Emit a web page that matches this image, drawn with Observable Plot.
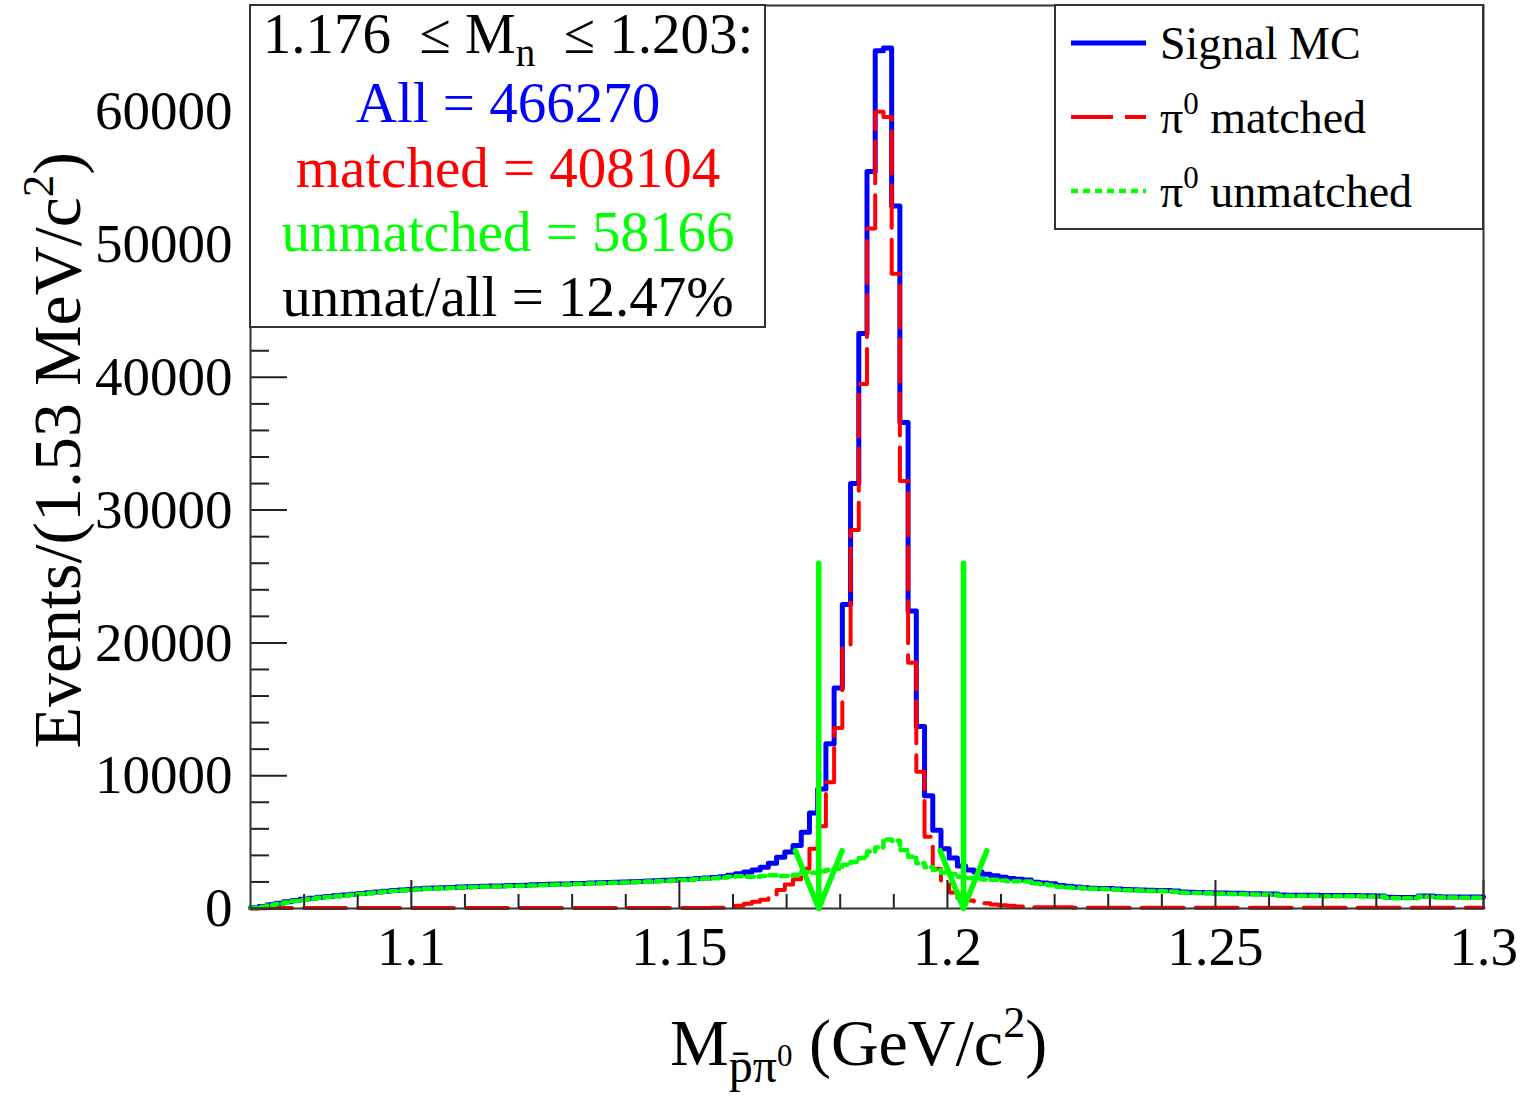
<!DOCTYPE html>
<html><head><meta charset="utf-8">
<script src="https://cdn.jsdelivr.net/npm/d3@7"></script>
<script src="https://cdn.jsdelivr.net/npm/@observablehq/plot@0.6"></script>
<style>
html,body{margin:0;padding:0;background:#fff;}
#chart svg{display:block;}
</style></head><body><div id="chart"></div>
<script>
// Histogram binning (150 bins of 1.53 MeV/c^2)
const binLow = 1.07;
const binHigh = 1.30;
const nBins = 150;

// Signal MC (all)
const allMC = [
  50,150,280,400,500,600,700,780,850,900,
  960,1010,1080,1130,1180,1250,1300,1350,1400,1430,
  1480,1520,1540,1570,1590,1620,1640,1650,1680,1690,
  1700,1730,1740,1750,1780,1800,1830,1840,1850,1880,
  1890,1920,1940,1960,1980,1990,2020,2040,2070,2090,
  2120,2140,2180,2200,2260,2290,2340,2400,2500,2620,
  2750,2900,3100,3400,3850,4250,4750,5750,7200,9000,
  12400,16600,22900,32000,43300,55500,64600,64800,52900,36600,
  22400,13700,8500,5900,4500,3800,3200,2900,2750,2580,
  2460,2360,2260,2200,2140,1980,1920,1860,1740,1680,
  1620,1570,1530,1510,1500,1460,1430,1420,1400,1370,
  1360,1350,1310,1240,1220,1210,1190,1170,1160,1150,
  1150,1120,1110,1100,1090,1010,1000,1000,990,990,
  980,980,980,970,970,960,960,950,840,830,
  820,830,950,940,880,870,870,860,860,860
];

// pi0 matched
const matched = [
  0,10,40,40,40,40,40,40,40,40,
  40,40,40,40,40,40,40,40,40,40,
  40,40,40,40,40,40,40,40,40,40,
  40,40,40,40,40,40,40,40,40,40,
  40,40,40,40,40,40,40,40,40,40,
  40,40,40,40,40,40,60,60,100,200,
  350,500,650,900,1400,1800,2200,3000,4500,6200,
  9500,13600,19600,28500,39500,51200,60000,59600,47800,32200,
  18500,10300,5400,3000,1800,1200,800,600,500,400,
  300,250,200,150,100,100,100,100,100,100,
  50,50,50,50,50,50,50,50,50,50,
  50,50,50,50,50,50,50,50,50,50,
  50,50,50,50,50,50,50,50,50,50,
  50,50,50,50,50,50,50,50,50,50,
  50,50,50,50,50,50,50,50,50,50
];

// pi0 unmatched
const unmatched = [
  50,140,240,360,460,560,660,740,810,860,
  920,970,1040,1090,1140,1210,1260,1310,1360,1390,
  1440,1480,1500,1530,1550,1580,1600,1610,1640,1650,
  1660,1690,1700,1710,1740,1760,1790,1800,1810,1840,
  1850,1880,1900,1920,1940,1950,1980,2000,2030,2050,
  2080,2100,2140,2160,2220,2250,2280,2340,2400,2420,
  2400,2400,2450,2500,2450,2450,2550,2750,2700,2800,
  2900,3000,3300,3500,3800,4300,4600,5200,5100,4400,
  3900,3400,3100,2900,2700,2600,2400,2300,2250,2180,
  2160,2110,2060,2050,2040,1880,1820,1760,1640,1580,
  1570,1520,1480,1460,1450,1410,1380,1370,1350,1320,
  1310,1300,1260,1190,1170,1160,1140,1120,1110,1100,
  1100,1070,1060,1050,1040,960,950,950,940,940,
  930,930,930,920,920,910,910,900,790,780,
  770,780,900,890,830,820,820,810,810,810
];

// Axis ticks
const xTickLabels = [1.1, 1.15, 1.2, 1.25, 1.3];
const xMinorTicks = [1.08,1.09,1.11,1.12,1.13,1.14,1.16,1.17,1.18,1.19,1.21,1.22,1.23,1.24,1.26,1.27,1.28,1.29];
const yTickLabels = [0, 10000, 20000, 30000, 40000, 50000, 60000];
const yMinorTicks = [2000,4000,6000,8000,12000,14000,16000,18000,22000,24000,26000,28000,32000,34000,36000,38000,42000,44000,46000,48000,52000,54000,56000,58000,62000,64000,66000];
const yMax = 68000;

// Selection window arrows
const cuts = [1.176, 1.203];
const arrowTop = 26000;

// Text
const statsLines = [
  {text: "All = 466270", color: "#0000ff"},
  {text: "matched = 408104", color: "#ff0000"},
  {text: "unmatched = 58166", color: "#00ff00"},
  {text: "unmat/all = 12.47%", color: "#000000"}
];
const legendItems = [
  {label: "Signal MC", pi: false, color: "#0000ff", dash: null, width: 5},
  {label: " matched", pi: true, color: "#ff0000", dash: "42,12", width: 4},
  {label: " unmatched", pi: true, color: "#00ff00", dash: "7,5", width: 4.5}
];

const binW = (binHigh - binLow) / nBins;
function steps(values) {
  const pts = values.map((v, i) => ({x: binLow + i * binW, y: v}));
  pts.push({x: binHigh, y: values[values.length - 1]});
  return pts;
}

const serif = "Liberation Serif, Times New Roman, serif";
const plot = Plot.plot({
  width: 1522,
  height: 1097,
  marginLeft: 250,
  marginRight: 39,
  marginTop: 5,
  marginBottom: 189,
  x: {domain: [binLow, binHigh]},
  y: {domain: [0, yMax]},
  style: {fontFamily: serif, fontSize: "55px", background: "white", color: "black", overflow: "visible"},
  marks: [
    Plot.line(steps(allMC), {x: "x", y: "y", curve: "step-after", stroke: "#0000ff", strokeWidth: 5}),
    Plot.line(steps(matched), {x: "x", y: "y", curve: "step-after", stroke: "#ff0000", strokeWidth: 4, strokeDasharray: "42,12"}),
    Plot.line(steps(unmatched), {x: "x", y: "y", curve: "step-after", stroke: "#00ff00", strokeWidth: 4.5, strokeDasharray: "7,5"}),
    Plot.ruleX(xMinorTicks, {x: d => d, y1: 0, y2: 0, insetBottom: 14, stroke: "#222", strokeWidth: 2}),
    Plot.ruleX(xTickLabels, {x: d => d, y1: 0, y2: 0, insetBottom: 28, stroke: "#222", strokeWidth: 2}),
    Plot.ruleY(yMinorTicks, {y: d => d, x1: binLow, x2: binLow, insetRight: -19, stroke: "#222", strokeWidth: 2}),
    Plot.ruleY(yTickLabels, {y: d => d, x1: binLow, x2: binLow, insetRight: -37, stroke: "#222", strokeWidth: 2}),
    Plot.frame({stroke: "#333", strokeWidth: 2}),
    Plot.axisX(xTickLabels, {tickSize: 0, tickPadding: 17, tickFormat: d => String(d), fontSize: 55, label: null}),
    Plot.axisY(yTickLabels, {tickSize: 0, tickPadding: 18, tickFormat: d => String(d), fontSize: 55, label: null}),
    Plot.arrow(cuts, {x1: d => d, x2: d => d, y1: arrowTop, y2: 0, stroke: "#00ff00", strokeWidth: 5.5, headAngle: 44, headLength: 17})
  ]
});
document.getElementById("chart").appendChild(plot);

const svg = d3.select(plot);

// Stats box
const sb = svg.append("g").attr("font-family", serif).attr("font-size", 57).attr("text-anchor", "middle");
sb.append("rect").attr("x", 250).attr("y", 5).attr("width", 515).attr("height", 322)
  .attr("fill", "white").attr("stroke", "#333").attr("stroke-width", 2);
const t0 = sb.append("text").attr("x", 508).attr("y", 53).attr("fill", "black");
t0.append("tspan").text("1.176\u00a0\u00a0\u2264\u00a0M");
t0.append("tspan").attr("font-size", 39).attr("dy", 13).text("n");
t0.append("tspan").attr("dy", -13).text("\u00a0\u00a0\u2264\u00a01.203:");
statsLines.forEach((l, i) => {
  sb.append("text").attr("x", 508).attr("y", 122 + i * 64.5).attr("fill", l.color).text(l.text);
});

// Legend box
const lg = svg.append("g").attr("font-family", serif).attr("font-size", 46).attr("text-anchor", "start");
lg.append("rect").attr("x", 1055).attr("y", 5).attr("width", 428).attr("height", 224)
  .attr("fill", "white").attr("stroke", "#333").attr("stroke-width", 2);
legendItems.forEach((it, i) => {
  const yc = 43 + i * 74;
  const ln = lg.append("line").attr("x1", 1071).attr("x2", 1146).attr("y1", yc).attr("y2", yc)
    .attr("stroke", it.color).attr("stroke-width", it.width);
  if (it.dash) ln.attr("stroke-dasharray", it.dash);
  const tx = lg.append("text").attr("x", 1160).attr("y", yc + 16).attr("fill", "black");
  if (it.pi) {
    tx.append("tspan").text("\u03c0");
    tx.append("tspan").attr("font-size", 31).attr("dy", -19).text("0");
    tx.append("tspan").attr("dy", 19).text(it.label);
  } else {
    tx.text(it.label);
  }
});

// X axis title
const xt = svg.append("text").attr("font-family", serif).attr("font-size", 66).attr("text-anchor", "start")
  .attr("x", 670).attr("y", 1065).attr("fill", "black");
xt.append("tspan").text("M");
xt.append("tspan").attr("font-size", 48).attr("dy", 17).text("p\u0304\u03c0");
xt.append("tspan").attr("font-size", 31).attr("dy", -16).text("0");
xt.append("tspan").attr("dy", -1).text("\u00a0(GeV/c");
xt.append("tspan").attr("font-size", 44).attr("dy", -28).text("2");
xt.append("tspan").attr("dy", 28).text(")");

// Y axis title
const yt = svg.append("text").attr("font-family", serif).attr("font-size", 68).attr("text-anchor", "end")
  .attr("transform", "translate(80,152) rotate(-90)").attr("fill", "black");
yt.append("tspan").text("Events/(1.53 MeV/c");
yt.append("tspan").attr("font-size", 45).attr("dy", -27).text("2");
yt.append("tspan").attr("dy", 27).text(")");
</script>
</body></html>
